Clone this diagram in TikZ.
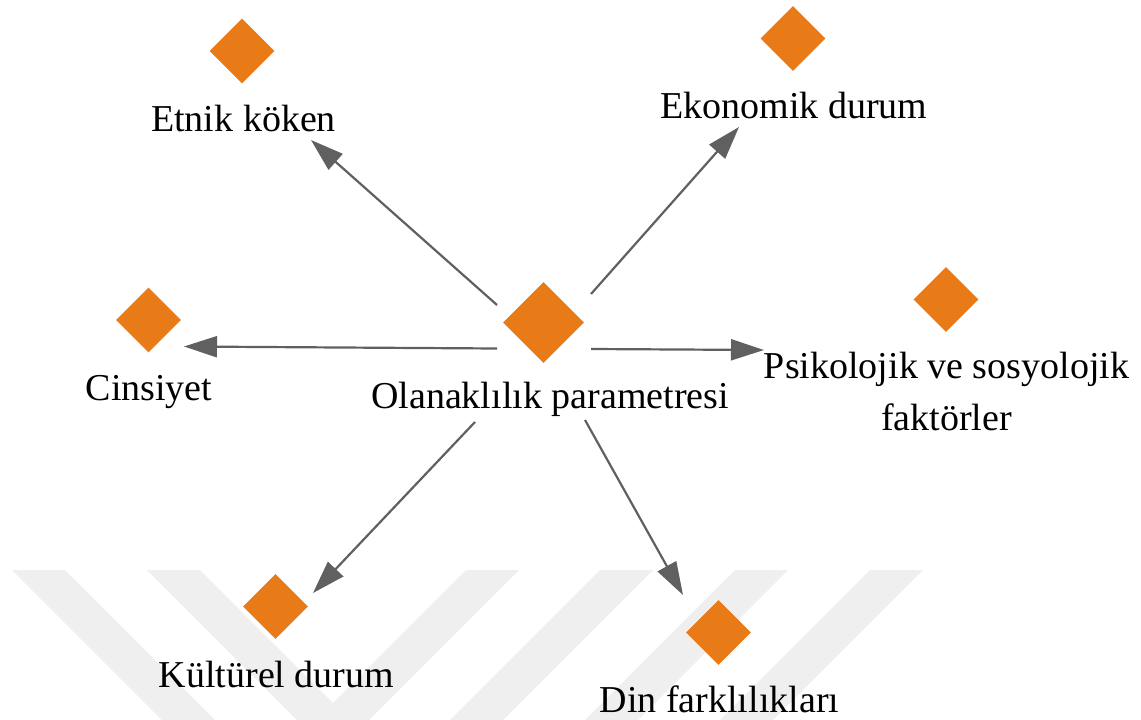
\documentclass[tikz,border=0pt]{standalone}
\usepackage{fontspec}
\setmainfont{Liberation Serif}
\usetikzlibrary{arrows.meta,shapes.geometric}
\definecolor{dia}{HTML}{E97A18}
\definecolor{arr}{HTML}{606060}
\definecolor{wm}{HTML}{EFEFEF}
\tikzset{
  dmd/.style={shape=diamond, fill=dia, draw=none, inner sep=0pt, minimum width=65pt, minimum height=65pt, aspect=1},
  bigdmd/.style={dmd, minimum width=81pt, minimum height=81pt},
  lbl/.style={anchor=base, inner sep=0pt, font=\fontsize{38}{52}\selectfont, align=center},
  conn/.style={draw=arr, line width=2.2pt, -{Triangle[length=33pt,width=21pt]}},
  band/.style={fill=wm, draw=none}
}
\begin{document}
\begin{tikzpicture}[x=1pt,y=-1pt]
\useasboundingbox (0,0) rectangle (1141,720);
% watermark bands
\begin{scope}
\clip (0,0) rectangle (1141,720);
\foreach \a in {12,147}{
  \fill[band] (\a,570) -- (\a+53,570) -- (\a+283,800) -- (\a+230,800) -- cycle;
}
\foreach \c in {466,600,735,870}{
  \fill[band] (\c,570) -- (\c+53,570) -- (\c-177,800) -- (\c-230,800) -- cycle;
}
\end{scope}
% diamonds
\node[bigdmd] (dc) at (543.5,322.5) {};
\node[dmd] (de) at (242,51) {};
\node[dmd] (dk) at (793,38.5) {};
\node[dmd] (dci) at (148.5,320) {};
\node[dmd] (dp) at (946,299.5) {};
\node[dmd] (dku) at (275.5,606.5) {};
\node[dmd] (dd) at (718.5,632.5) {};
% labels
\node[lbl] (lc) at (550,408) {Olanaklılık parametresi};
\node[lbl] (le) at (243.5,131.5) {Etnik köken};
\node[lbl] (lk) at (794,118) {Ekonomik durum};
\node[lbl] (lci) at (149,400) {Cinsiyet};
\node[lbl] (lp) at (946.5,430) {Psikolojik ve sosyolojik\\faktörler};
\node[lbl] (lku) at (276.5,687) {Kültürel durum};
\node[lbl] (ld) at (719.5,712) {Din farklılıkları};
% connector ends
\coordinate (s1) at (497,305);
\coordinate (t1) at (311,140);
\coordinate (s2) at (591,294);
\coordinate (t2) at (739,127);
\coordinate (s3) at (497,348.5);
\coordinate (t3) at (184,346.5);
\coordinate (s4) at (591,349);
\coordinate (t4) at (764,350);
\coordinate (s5) at (475,422);
\coordinate (t5) at (313,593);
\coordinate (s6) at (585,420);
\coordinate (t6) at (683,595);
\draw[conn] (s1) -- (t1);
\draw[conn] (s2) -- (t2);
\draw[conn] (s3) -- (t3);
\draw[conn] (s4) -- (t4);
\draw[conn] (s5) -- (t5);
\draw[conn] (s6) -- (t6);
\end{tikzpicture}
\end{document}
